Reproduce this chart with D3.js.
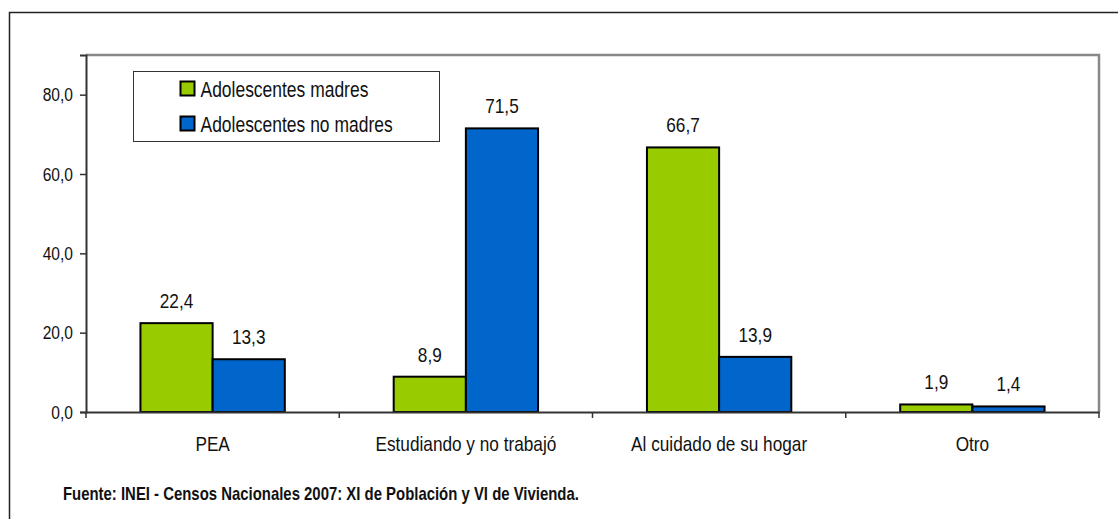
<!DOCTYPE html>
<html>
<meta charset="utf-8">
<head>
	<title>adolescentes</title>
	<script src="https://cdn.jsdelivr.net/npm/d3@7/dist/d3.min.js" charset="utf-8"></script>
	<style>
		body { margin: 0; background: #fff; }
		text { font-family: "Liberation Sans Narrow", "Arial Narrow", "Liberation Sans", sans-serif; fill: #111; }
	</style>
</head>
<body>
	<script type="text/javascript">
		var categories = ['PEA', 'Estudiando y no trabajó', 'Al cuidado de su hogar', 'Otro'];
		var series = ['Adolescentes madres', 'Adolescentes no madres'];
		var madres = [22.4, 8.9, 66.7, 1.9];
		var noMadres = [13.3, 71.5, 13.9, 1.4];
		var yTicks = [0, 20, 40, 60, 80];
		var colors = ['#99cc00', '#0066cc'];
		var fuente = 'Fuente: INEI - Censos Nacionales 2007: XI de Población y VI de Vivienda.';

		var W = 1118, H = 519;
		var margin = {top: 55, right: 19, bottom: 107, left: 86},
			width = W - margin.left - margin.right,
			height = H - margin.top - margin.bottom;

		// no narrow font installed: squeeze the regular one
		var SQ = 0.82;
		function narrow(sel) {
			sel.each(function() {
				var t = d3.select(this);
				var x = +t.attr('x') || 0;
				t.attr('x', x / SQ).attr('transform', 'scale(' + SQ + ',1)');
			});
		}
		var fmt = function(v) { return d3.format('.1f')(v).replace('.', ','); };

		var svg = d3.select('body').append('svg')
			.attr('width', W)
			.attr('height', H);

		// outer frame
		svg.append('rect')
			.attr('x', 9.5).attr('y', 12.5)
			.attr('width', W + 20).attr('height', H + 20)
			.attr('fill', 'none').attr('stroke', '#222').attr('stroke-width', 1.5);

		var g = svg.append('g').attr('transform', 'translate(' + margin.left + ',' + margin.top + ')');

		var x0 = d3.scaleBand().domain(categories).range([0, width]).paddingInner(0.43).paddingOuter(0.215);
		var x1 = d3.scaleBand().domain(series).range([0, x0.bandwidth()]);
		var y = d3.scaleLinear().domain([0, 90]).range([height, 0]);

		// plot area border (top/right)
		g.append('path')
			.attr('d', 'M0,0H' + width + 'V' + height)
			.attr('fill', 'none').attr('stroke', '#888').attr('stroke-width', 2.5);

		var rows = categories.map(function(c, i) { return {cat: c, vals: [madres[i], noMadres[i]]}; });

		var grp = g.selectAll('.grp').data(rows).enter().append('g')
			.attr('transform', function(d) { return 'translate(' + x0(d.cat) + ',0)'; });

		grp.selectAll('rect').data(function(d) { return d.vals.map(function(v, i) { return {s: series[i], v: v, i: i}; }); })
			.enter().append('rect')
			.attr('x', function(d) { return x1(d.s); })
			.attr('y', function(d) { return y(d.v); })
			.attr('width', x1.bandwidth())
			.attr('height', function(d) { return height - y(d.v); })
			.attr('fill', function(d) { return colors[d.i]; })
			.attr('stroke', '#000').attr('stroke-width', 2);

		grp.selectAll('.lbl').data(function(d) { return d.vals.map(function(v, i) { return {s: series[i], v: v}; }); })
			.enter().append('text')
			.attr('x', function(d) { return x1(d.s) + x1.bandwidth() / 2; })
			.attr('y', function(d) { return y(d.v) - 15; })
			.attr('text-anchor', 'middle')
			.style('font-size', '21px')
			.text(function(d) { return fmt(d.v); })
			.call(narrow);

		// y axis
		var yAxis = g.append('g')
			.call(d3.axisLeft(y).tickValues(yTicks).tickSize(6).tickPadding(7).tickFormat(fmt));
		yAxis.select('.domain').attr('stroke', '#333').attr('stroke-width', 2);
		yAxis.selectAll('line').attr('stroke', '#333').attr('stroke-width', 1.5);
		yAxis.selectAll('text').style('font-size', '19px').attr('fill', '#111').call(narrow);

		// x axis
		var xAxis = g.append('g').attr('transform', 'translate(0,' + height + ')')
			.call(d3.axisBottom(x0).tickSize(0).tickPadding(24));
		xAxis.select('.domain').attr('stroke', '#333').attr('stroke-width', 2);
		xAxis.selectAll('text').style('font-size', '21px').attr('fill', '#111').call(narrow);
		var step = width / categories.length;
		xAxis.selectAll('.sep').data(d3.range(categories.length + 1)).enter().append('line')
			.attr('x1', function(d) { return d * step; }).attr('x2', function(d) { return d * step; })
			.attr('y1', 0).attr('y2', 6)
			.attr('stroke', '#333').attr('stroke-width', 1.5);

		// legend
		var leg = svg.append('g').attr('transform', 'translate(133.5,71.5)');
		leg.append('rect').attr('width', 306).attr('height', 70)
			.attr('fill', '#fff').attr('stroke', '#333').attr('stroke-width', 1);
		series.forEach(function(s, i) {
			leg.append('rect').attr('x', 47).attr('y', 10 + i * 35).attr('width', 14).attr('height', 14)
				.attr('fill', colors[i]).attr('stroke', '#000').attr('stroke-width', 2);
			leg.append('text').attr('x', 67).attr('y', 25.5 + i * 35)
				.style('font-size', '21.3px').text(s).call(narrow);
		});

		svg.append('text').attr('x', 63).attr('y', 500)
			.style('font-size', '18.2px').style('font-weight', 'bold').attr('fill', '#222')
			.text(fuente).call(narrow);
	</script>
</body>
</html>
